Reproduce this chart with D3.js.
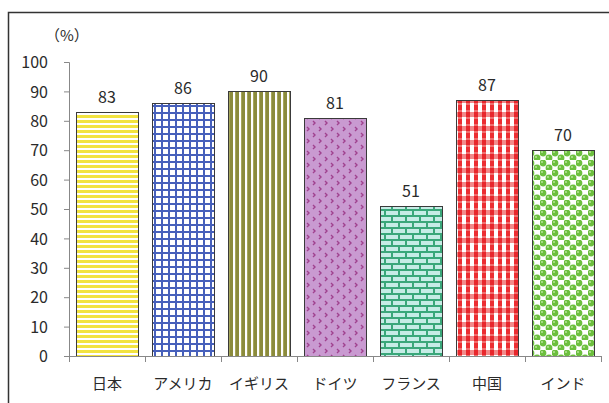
<!DOCTYPE html>
<html>
<head>
<meta charset="utf-8">
<script src="https://cdn.jsdelivr.net/npm/d3@7"></script>
<style>
 body{margin:0;background:#fff;}
 svg{display:block;}
 text{font-family:"Noto Sans CJK JP","Liberation Sans",sans-serif;fill:#2a2a2a;}
 .tk text{font-size:16px;}
</style>
</head>
<body>
<script>
// data
var countries=['日本','アメリカ','イギリス','ドイツ','フランス','中国','インド'];
var rates=[83,86,90,81,51,87,70];
var yticks=[0,10,20,30,40,50,60,70,80,90,100];
// layout
var wid=609, hgh=403;
var x0=69, x1=601, ytop=62, ybot=356;

var svg=d3.select('body').append('svg').attr('width',wid).attr('height',hgh);
var defs=svg.append('defs');

// fill patterns, one per bar
function pat(id,w,h){
 return defs.append('pattern').attr('id',id).attr('patternUnits','userSpaceOnUse')
   .attr('width',w).attr('height',h);
}
var p;
p=pat('p0',6,5); // yellow horizontal stripes
p.append('rect').attr('width',6).attr('height',5).attr('fill','#fff');
p.append('rect').attr('y',0).attr('width',6).attr('height',3).attr('fill','#f2e33f');
p=pat('p1',7,7); // blue grid
p.append('rect').attr('width',7).attr('height',7).attr('fill','#fff');
p.append('rect').attr('width',7).attr('height',2).attr('fill','#4760bb');
p.append('rect').attr('width',2).attr('height',7).attr('fill','#4760bb');
p=pat('p2',6,6); // olive vertical stripes
p.append('rect').attr('width',6).attr('height',6).attr('fill','#fff');
p.append('rect').attr('x',1).attr('width',4).attr('height',6).attr('fill','#8b8b3c');
p.append('rect').attr('x',1).attr('width',1).attr('height',6).attr('fill','#a6a65a');
p=pat('p3',12,12); // purple with small chevrons
p.append('rect').attr('width',12).attr('height',12).attr('fill','#c99ad1');
p.append('path').attr('d','M1,1 l2,2 l-2,2 M7,7 l2,2 l-2,2').attr('stroke','#a0418f').attr('stroke-width',1.4).attr('fill','none');
p=pat('p4',14,12); // green brick
p.append('rect').attr('width',14).attr('height',12).attr('fill','#3aa77a');
p.append('rect').attr('x',1).attr('y',1).attr('width',12).attr('height',4).attr('fill','#c6ece6');
p.append('rect').attr('x',-6).attr('y',7).attr('width',12).attr('height',4).attr('fill','#c6ece6');
p.append('rect').attr('x',8).attr('y',7).attr('width',12).attr('height',4).attr('fill','#c6ece6');
p=pat('p5',8,14); // red gingham
p.append('rect').attr('width',8).attr('height',14).attr('fill','#fff');
p.append('rect').attr('width',8).attr('height',5).attr('fill','#f28a8a');
p.append('rect').attr('x',2).attr('width',4).attr('height',14).attr('fill','#f07070');
p.append('rect').attr('x',2).attr('y',0).attr('width',4).attr('height',5).attr('fill','#e8262b');
p.append('rect').attr('x',2).attr('y',7).attr('width',4).attr('height',5).attr('fill','#ec2e32');
p=pat('p6',12,10); // green dots
p.append('rect').attr('width',12).attr('height',10).attr('fill','#fff');
[[3,3],[9,8],[-3,8],[15,8]].forEach(function(c){
 p.append('circle').attr('cx',c[0]).attr('cy',c[1]).attr('r',3.4).attr('fill','#6cbf3e');
 p.append('circle').attr('cx',c[0]-1).attr('cy',c[1]-1).attr('r',1).attr('fill','#b8e39a');
});

// frame
svg.append('rect').attr('x',8.5).attr('y',12.5).attr('width',wid).attr('height',hgh)
  .attr('fill','none').attr('stroke','#333').attr('stroke-width',1.5);

var x=d3.scaleBand().domain(countries).range([x0,x1]).paddingInner(0.18).paddingOuter(0.09);
var y=d3.scaleLinear().domain([0,100]).range([ybot,ytop]);

// bars
svg.selectAll('rect.bar').data(rates).enter().append('rect').attr('class','bar')
  .attr('x',function(d,i){return Math.round(x(countries[i]))+0.5;})
  .attr('y',function(d){return Math.round(y(d))+0.5;})
  .attr('width',Math.round(x.bandwidth()))
  .attr('height',function(d){return ybot-Math.round(y(d));})
  .attr('fill',function(d,i){return 'url(#p'+i+')';})
  .attr('stroke','#3a3a3a').attr('stroke-width',1);

// value labels
svg.selectAll('text.val').data(rates).enter().append('text').attr('class','val')
  .attr('x',function(d,i){return x(countries[i])+x.bandwidth()/2;})
  .attr('y',function(d){return y(d)-9;})
  .attr('text-anchor','middle').attr('font-size',16)
  .text(function(d){return d;});

// y axis
var ya=svg.append('g').attr('class','tk').attr('transform','translate('+x0+',0)')
  .call(d3.axisLeft(y).tickValues(yticks).tickSize(5).tickPadding(16));
ya.attr('font-family',null).attr('font-size',null);
ya.selectAll('line,path').attr('stroke','#888');
ya.selectAll('text').attr('dy','0.35em');

// x axis with ticks on band edges
svg.append('line').attr('x1',x0).attr('x2',x1).attr('y1',ybot+0.5).attr('y2',ybot+0.5)
  .attr('stroke','#888');
var edges=[x0].concat(countries.map(function(c,i){return x0+(x1-x0)/countries.length*(i+1);}));
svg.selectAll('line.xt').data(edges).enter().append('line').attr('class','xt')
  .attr('x1',function(d){return Math.round(d)+0.5;}).attr('x2',function(d){return Math.round(d)+0.5;})
  .attr('y1',ybot).attr('y2',ybot+6).attr('stroke','#888');
svg.selectAll('text.cat').data(countries).enter().append('text').attr('class','cat')
  .attr('x',function(d){return x(d)+x.bandwidth()/2;}).attr('y',389)
  .attr('text-anchor','middle').attr('font-size',15)
  .text(function(d){return d;});

// unit
svg.append('text').attr('x',45).attr('y',41).attr('font-size',15).text('（%）');
</script>
</body>
</html>
